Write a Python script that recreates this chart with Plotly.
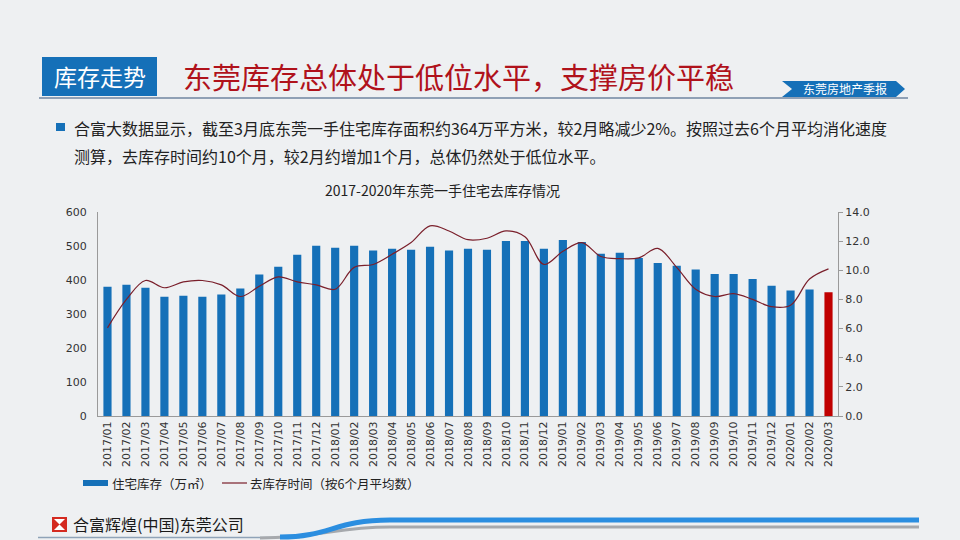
import plotly.graph_objects as go

# ---------------- data ----------------
months = [
    "2017/01", "2017/02", "2017/03", "2017/04", "2017/05", "2017/06", "2017/07", "2017/08",
    "2017/09", "2017/10", "2017/11", "2017/12",
    "2018/01", "2018/02", "2018/03", "2018/04", "2018/05", "2018/06", "2018/07", "2018/08",
    "2018/09", "2018/10", "2018/11", "2018/12",
    "2019/01", "2019/02", "2019/03", "2019/04", "2019/05", "2019/06", "2019/07", "2019/08",
    "2019/09", "2019/10", "2019/11", "2019/12",
    "2020/01", "2020/02", "2020/03",
]
inventory = [
    380, 386, 377, 351, 354, 351, 357, 375, 416, 439, 474, 501,
    495, 501, 487, 492, 489, 498, 487, 492, 489, 515, 515, 492,
    518, 512, 477, 480, 465, 450, 442, 431, 418, 418, 403, 383,
    369, 372, 364,
]
months_to_clear = [
    6.05, 8.0, 9.3, 8.8, 9.2, 9.3, 9.0, 8.2, 8.9, 9.55, 9.2, 9.0,
    8.7, 10.2, 10.4, 11.1, 11.9, 13.05, 12.7, 12.1, 12.2, 12.7, 12.3, 10.4,
    11.3, 11.9, 10.95, 10.8, 10.85, 11.5, 10.2, 8.7, 8.2, 8.4, 8.0, 7.5,
    7.6, 9.4, 10.1,
]
left_ticks = [0, 100, 200, 300, 400, 500, 600]
right_ticks = [0, 2, 4, 6, 8, 10, 12, 14]

BAR_NAME = "住宅库存（万㎡）"
LINE_NAME = "去库存时间（按6个月平均数）"
HEADER_TAG = "库存走势"
HEADLINE = "东莞库存总体处于低位水平，支撑房价平稳"
BADGE = "东莞房地产季报"
BULLET_1 = "合富大数据显示，截至3月底东莞一手住宅库存面积约364万平方米，较2月略减少2%。按照过去6个月平均消化速度"
BULLET_2 = "测算，去库存时间约10个月，较2月约增加1个月，总体仍然处于低位水平。"
CHART_TITLE = "2017-2020年东莞一手住宅去库存情况"
FOOTER = "合富辉煌(中国)东莞公司"

# ---------------- styling ----------------
W, H = 960, 540
BLUE = "#1570b8"
RED_BAR = "#c00000"
LINE_COL = "#7a1f2b"
FONT = "Noto Sans CJK SC"


def px(x):
    return x / W


def py(y):
    return 1 - y / H


bar_colors = [BLUE] * (len(months) - 1) + [RED_BAR]

fig = go.Figure()
fig.add_trace(go.Bar(
    x=months, y=inventory, name=BAR_NAME, marker=dict(color=bar_colors, line=dict(width=0)),
    yaxis="y", showlegend=False,
))
fig.add_trace(go.Scatter(
    x=months, y=months_to_clear, name=LINE_NAME, mode="lines",
    line=dict(color=LINE_COL, width=1.2, shape="spline", smoothing=1.0),
    yaxis="y2", showlegend=False,
))

x0, x1 = 98, 838
ytop, ybot = 212, 416

fig.update_layout(
    width=W, height=H, autosize=False,
    margin=dict(l=0, r=0, t=0, b=0),
    paper_bgcolor="#eef0f2", plot_bgcolor="rgba(0,0,0,0)",
    font=dict(family=FONT, color="#333333", size=11),
    bargap=0.57,
    xaxis=dict(
        type="category", domain=[px(x0), px(x1)], range=[-0.5, len(months) - 0.5],
        tickangle=-90, tickfont=dict(size=11, family="DejaVu Sans", color="#333333"),
        showline=True, linecolor="#9a9a9a", linewidth=1, showgrid=False,
        ticks="", automargin=False, anchor="y",
    ),
    yaxis=dict(
        domain=[py(ybot), py(ytop)], range=[0, 600], tickvals=left_ticks,
        tickfont=dict(size=11, family="DejaVu Sans", color="#333333"),
        showline=True, linecolor="#9a9a9a", linewidth=1, showgrid=False, zeroline=False,
        ticks="", automargin=False, ticklabelstandoff=8,
    ),
    yaxis2=dict(
        overlaying="y", side="right", range=[0, 14], tickvals=right_ticks,
        tickformat=".1f", tickfont=dict(size=11, family="DejaVu Sans", color="#333333"),
        showline=True, linecolor="#9a9a9a", linewidth=1, showgrid=False, zeroline=False,
        ticks="outside", ticklen=4, tickcolor="#9a9a9a", automargin=False,
        anchor="x",
    ),
)

shapes = []
ann = []

# header
shapes.append(dict(type="rect", xref="paper", yref="paper", x0=px(42), x1=px(157), y0=py(96), y1=py(57),
                   fillcolor=BLUE, line=dict(width=0), layer="above"))
ann.append(dict(text=HEADER_TAG, x=px(99.5), y=py(76.5), xref="paper", yref="paper", showarrow=False,
                font=dict(size=23, color="white", family=FONT), xanchor="center", yanchor="middle"))
ann.append(dict(text=HEADLINE, x=px(181), y=py(76), xref="paper", yref="paper", showarrow=False,
                font=dict(size=29, color="#b0121b", family=FONT), xanchor="left", yanchor="middle"))
shapes.append(dict(type="line", xref="paper", yref="paper", x0=px(39), x1=px(908), y0=py(98), y1=py(98),
                   line=dict(color="#6f86a0", width=1.5)))
# badge arrow
path = "M {a},{b} L {c},{b} L {d},{e} L {c},{f} L {a},{f} L {g},{e} Z".format(
    a=px(782), b=py(81), c=px(896), d=px(905), e=py(89), f=py(97), g=px(792))
shapes.append(dict(type="path", xref="paper", yref="paper", path=path, fillcolor=BLUE,
                   line=dict(width=0)))
ann.append(dict(text=BADGE, x=px(845), y=py(89), xref="paper", yref="paper", showarrow=False,
                font=dict(size=12, color="white", family=FONT), xanchor="center", yanchor="middle"))

# bullet text
shapes.append(dict(type="rect", xref="paper", yref="paper", x0=px(56), x1=px(65), y0=py(131), y1=py(123),
                   fillcolor=BLUE, line=dict(width=0)))
ann.append(dict(text=BULLET_1, x=px(72), y=py(127.5), xref="paper", yref="paper", showarrow=False,
                font=dict(size=16, color="#222222", family=FONT), xanchor="left", yanchor="middle"))
ann.append(dict(text=BULLET_2, x=px(72), y=py(156.5), xref="paper", yref="paper", showarrow=False,
                font=dict(size=16, color="#222222", family=FONT), xanchor="left", yanchor="middle"))

# chart title
ann.append(dict(text=CHART_TITLE, x=px(442), y=py(190), xref="paper", yref="paper", showarrow=False,
                font=dict(size=14, color="#222222", family=FONT), xanchor="center", yanchor="middle"))

# legend (custom)
shapes.append(dict(type="rect", xref="paper", yref="paper", x0=px(83), x1=px(108), y0=py(486), y1=py(480),
                   fillcolor=BLUE, line=dict(width=0)))
ann.append(dict(text=BAR_NAME, x=px(110), y=py(483), xref="paper", yref="paper", showarrow=False,
                font=dict(size=12.5, color="#222222", family=FONT), xanchor="left", yanchor="middle"))
shapes.append(dict(type="line", xref="paper", yref="paper", x0=px(222), x1=px(247), y0=py(483), y1=py(483),
                   line=dict(color=LINE_COL, width=1.2)))
ann.append(dict(text=LINE_NAME, x=px(248), y=py(483), xref="paper", yref="paper", showarrow=False,
                font=dict(size=12.5, color="#222222", family=FONT), xanchor="left", yanchor="middle"))

# footer
shapes.append(dict(type="rect", xref="paper", yref="paper", x0=px(52), x1=px(67), y0=py(532), y1=py(517),
                   fillcolor="#d42a20", line=dict(width=0)))
shapes.append(dict(type="path", xref="paper", yref="paper",
                   path="M {},{} L {},{} L {},{} L {},{} Z".format(px(54), py(519), px(65), py(519), px(59.5), py(524.5), px(54), py(519)),
                   fillcolor="white", line=dict(width=0)))
shapes.append(dict(type="path", xref="paper", yref="paper",
                   path="M {},{} L {},{} L {},{} L {},{} Z".format(px(54), py(530), px(65), py(530), px(59.5), py(524.5), px(54), py(530)),
                   fillcolor="white", line=dict(width=0)))
ann.append(dict(text=FOOTER, x=px(71), y=py(523.5), xref="paper", yref="paper", showarrow=False,
                font=dict(size=16, color="#1a1a1a", family=FONT), xanchor="left", yanchor="middle"))
shapes.append(dict(type="line", xref="paper", yref="paper", x0=px(38), x1=px(300), y0=py(537.5), y1=py(537.5),
                   line=dict(color="#8fa3b8", width=1.5)))
shapes.append(dict(type="path", xref="paper", yref="paper",
                   path="M {},{} C {},{} {},{} {},{} L {},{}".format(
                       px(260), py(538), px(320), py(538), px(335), py(527), px(390), py(527), px(919), py(527)),
                   line=dict(color="#a6a9ad", width=3)))
shapes.append(dict(type="path", xref="paper", yref="paper",
                   path="M {},{} C {},{} {},{} {},{} L {},{}".format(
                       px(280), py(537), px(330), py(537), px(335), py(520), px(390), py(520), px(919), py(520)),
                   line=dict(color="#2b8ee0", width=5)))

fig.update_layout(shapes=shapes, annotations=ann)

fig.write_html("out.html", config={"displayModeBar": False},
               post_script="document.body.style.margin='0';document.body.style.overflow='hidden';")
